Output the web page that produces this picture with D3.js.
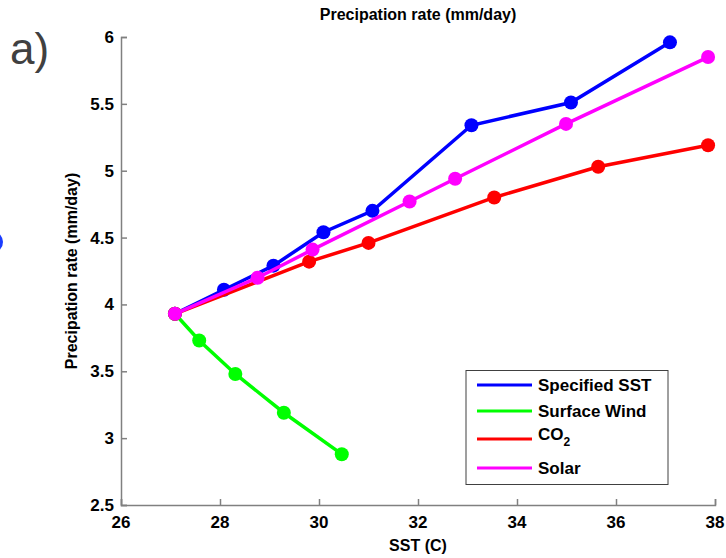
<!DOCTYPE html>
<html>
<head>
<meta charset="utf-8">
<script src="https://cdn.jsdelivr.net/npm/d3@7"></script>
<style>
  body { margin: 0; background: #fff; }
  text { font-family: "Liberation Sans", Arial, sans-serif; }
</style>
</head>
<body>
<svg id="chart" width="726" height="558"></svg>
<script>
// values
specSST_x = [27.09, 28.08, 29.08, 30.09, 31.08, 33.08, 35.09, 37.09];
specSST_y = [3.93, 4.11, 4.29, 4.54, 4.70, 5.34, 5.51, 5.96];
wind_x = [27.09, 27.58, 28.31, 29.29, 30.46];
wind_y = [3.93, 3.73, 3.48, 3.19, 2.88];
co2_x = [27.09, 29.80, 31.00, 33.54, 35.64, 37.86];
co2_y = [3.93, 4.32, 4.46, 4.80, 5.03, 5.19];
solar_x = [27.09, 28.76, 29.87, 31.83, 32.75, 34.99, 37.86];
solar_y = [3.93, 4.20, 4.41, 4.77, 4.94, 5.35, 5.85];

seriesNames = ["Specified SST", "Surface Wind", "CO2", "Solar"];
seriesColors = ["#0000ff", "#00ff00", "#ff0000", "#ff00ff"];
xTicks = [26, 28, 30, 32, 34, 36, 38];
yTicks = [2.5, 3, 3.5, 4, 4.5, 5, 5.5, 6];

series = [
    {name: seriesNames[0], color: seriesColors[0], pts: specSST_x.map((x, i) => [x, specSST_y[i]])},
    {name: seriesNames[1], color: seriesColors[1], pts: wind_x.map((x, i) => [x, wind_y[i]])},
    {name: seriesNames[2], color: seriesColors[2], pts: co2_x.map((x, i) => [x, co2_y[i]])},
    {name: seriesNames[3], color: seriesColors[3], pts: solar_x.map((x, i) => [x, solar_y[i]])}
];

svg = d3.select("#chart");
// note: "top" is taken by window.top, so plot edges get their own names
plotLeft = 121; plotRight = 715; plotTop = 37; plotBottom = 505;

xScale = d3.scaleLinear().domain([26, 38]).range([plotLeft, plotRight]);
yScale = d3.scaleLinear().domain([2.5, 6]).range([plotBottom, plotTop]);

// stray bit of the neighbouring panel at the left edge
svg.append("ellipse")
    .attr("cx", -6).attr("cy", 242).attr("rx", 9).attr("ry", 10)
    .attr("fill", "#1a3cff");

svg.append("text")
    .attr("x", 10).attr("y", 64)
    .attr("font-size", 44).attr("fill", "#404040")
    .text("a)");

svg.append("text")
    .attr("x", (plotLeft + plotRight) / 2).attr("y", 20)
    .attr("text-anchor", "middle")
    .attr("font-size", 16).attr("font-weight", "bold")
    .text("Precipation rate (mm/day)");

// axes: ticks point inward, like matlab
svg.append("g")
    .attr("transform", `translate(0,${plotBottom})`)
    .call(d3.axisTop(xScale).tickValues(xTicks).tickSize(6).tickFormat(""));
svg.append("g")
    .attr("transform", `translate(${plotLeft},0)`)
    .call(d3.axisRight(yScale).tickValues(yTicks).tickSize(6).tickFormat(""));
svg.selectAll(".domain, .tick line")
    .attr("stroke", "#808080").attr("stroke-width", 1.5);

svg.append("g").selectAll("text")
    .data(xTicks)
    .enter().append("text")
    .attr("x", d => xScale(d)).attr("y", plotBottom + 23)
    .attr("text-anchor", "middle")
    .attr("font-size", 17).attr("font-weight", "bold")
    .text(d => d);

svg.append("g").selectAll("text")
    .data(yTicks)
    .enter().append("text")
    .attr("x", plotLeft - 7).attr("y", d => yScale(d) + 6)
    .attr("text-anchor", "end")
    .attr("font-size", 17).attr("font-weight", "bold")
    .text(d => d);

svg.append("text")
    .attr("x", (plotLeft + plotRight) / 2).attr("y", 551)
    .attr("text-anchor", "middle")
    .attr("font-size", 16).attr("font-weight", "bold")
    .text("SST (C)");

svg.append("text")
    .attr("transform", `translate(77,${(plotTop + plotBottom) / 2}) rotate(-90)`)
    .attr("text-anchor", "middle")
    .attr("font-size", 16).attr("font-weight", "bold")
    .text("Precipation rate (mm/day)");

line = d3.line().x(d => xScale(d[0])).y(d => yScale(d[1]));

series.forEach(s => {
    g = svg.append("g");
    g.append("path")
        .attr("d", line(s.pts))
        .attr("fill", "none")
        .attr("stroke", s.color)
        .attr("stroke-width", 3.5);
    g.selectAll("circle")
        .data(s.pts)
        .enter().append("circle")
        .attr("cx", d => xScale(d[0]))
        .attr("cy", d => yScale(d[1]))
        .attr("r", 7)
        .attr("fill", s.color);
});

// legend
legend = svg.append("g");
legend.append("rect")
    .attr("x", 466).attr("y", 370.5).attr("width", 202).attr("height", 114)
    .attr("fill", "#fff").attr("stroke", "#404040").attr("stroke-width", 1);
legendY = [385, 411, 439, 468];
series.forEach((s, i) => {
    legend.append("line")
        .attr("x1", 477).attr("x2", 532)
        .attr("y1", legendY[i]).attr("y2", legendY[i])
        .attr("stroke", s.color).attr("stroke-width", 3);
    t = legend.append("text")
        .attr("x", 538).attr("y", legendY[i] + 6)
        .attr("font-size", 17).attr("font-weight", "bold");
    if (s.name == "CO2") {
        t.append("tspan").text("CO");
        t.append("tspan").attr("font-size", 12).attr("dy", 6).text("2");
        t.attr("y", legendY[i] + 1);
    } else {
        t.text(s.name);
    }
});
</script>
</body>
</html>
